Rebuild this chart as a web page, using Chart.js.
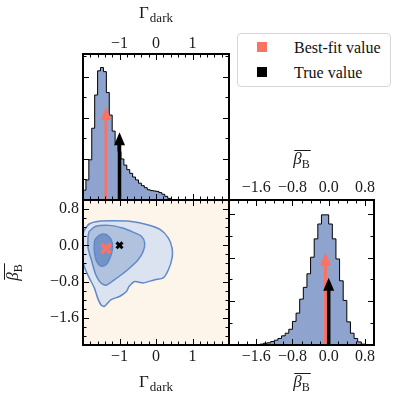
<!DOCTYPE html>
<html>
<head>
<meta charset="utf-8">
<script src="https://cdn.jsdelivr.net/npm/chart.js@4.4.0/dist/chart.umd.min.js"></script>
<style>
  html, body { margin: 0; padding: 0; background: #fff; }
  #wrap { position: relative; width: 397px; height: 399px; overflow: hidden; }
  #wrap canvas { position: absolute; left: 0; top: 0; }
  #legend { position: absolute; left: 237px; top: 33px; width: 154px; height: 54px; box-sizing: border-box;
            border: 1px solid #d6d6d6; border-radius: 4px; background: #fff;
            font-family: 'Liberation Serif', serif; font-size: 16px; color: #111; }
  #legend .sw { position: absolute; left: 19px; width: 10px; height: 10px; }
  #legend .lb { position: absolute; left: 56px; line-height: 16px; white-space: nowrap; }
</style>
</head>
<body>
<div id="wrap">
  <canvas id="cA" width="397" height="399"></canvas>
  <canvas id="cB" width="397" height="399"></canvas>
  <canvas id="cC" width="397" height="399"></canvas>
  <div id="legend">
    <div class="sw" style="top:8px;background:#fa7264"></div><div class="lb" style="top:6px">Best-fit value</div>
    <div class="sw" style="top:33px;background:#000"></div><div class="lb" style="top:31px">True value</div>
  </div>
</div>
<script>
// --- data ---
var gammaBinEdges = [-2.00, -1.92, -1.84, -1.76, -1.68, -1.60, -1.52, -1.44, -1.36, -1.28, -1.20, -1.12, -1.04, -0.96,
  -0.88, -0.80, -0.72, -0.64, -0.56, -0.48, -0.40, -0.32, -0.24, -0.16, -0.08, 0.00, 0.08, 0.16, 0.24, 0.32, 0.40, 0.48];
var gammaDensity = [0.24, 0.49, 0.98, 1.75, 2.56, 3.15, 3.23, 3.13, 2.62, 2.07, 1.68, 1.38, 1.18, 1.00, 0.85, 0.74,
  0.65, 0.56, 0.49, 0.41, 0.35, 0.30, 0.25, 0.23, 0.22, 0.21, 0.18, 0.14, 0.09, 0.04, 0.01];

var betaBinEdges = [-1.52, -1.44, -1.36, -1.28, -1.20, -1.12, -1.04, -0.96, -0.88, -0.80, -0.72, -0.64, -0.56, -0.48,
  -0.40, -0.32, -0.24, -0.16, -0.08, 0.00, 0.08, 0.16, 0.24, 0.32, 0.40, 0.48, 0.56, 0.64, 0.72, 0.80];
var betaDensity = [0.02, 0.04, 0.05, 0.08, 0.11, 0.15, 0.21, 0.27, 0.36, 0.54, 0.73, 1.05, 1.32, 1.63, 2.01, 2.43,
  2.77, 2.98, 2.98, 2.77, 2.43, 1.97, 1.47, 1.02, 0.53, 0.27, 0.15, 0.07, 0.02];

// 2D credible contours (gamma, beta)
var contourOuter = [[-1.97, 0.33], [-1.83, 0.47], [-1.56, 0.53], [-1.19, 0.54], [-0.72, 0.53], [-0.26, 0.46],
  [0.11, 0.35], [0.34, 0.16], [0.44, -0.06], [0.44, -0.28], [0.34, -0.54], [0.20, -0.72], [-0.03, -0.76],
  [-0.35, -0.83], [-0.58, -0.80], [-0.74, -0.91], [-0.81, -1.02], [-1.00, -1.13], [-1.23, -1.20], [-1.42, -1.35],
  [-1.51, -1.31], [-1.60, -1.16], [-1.69, -0.94], [-1.83, -0.72], [-1.95, -0.50], [-2.05, -0.21], [-2.06, 0.05],
  [-1.97, 0.33]];
var contourMiddle = [[-1.83, 0.31], [-1.65, 0.42], [-1.28, 0.44], [-0.91, 0.38], [-0.63, 0.29], [-0.40, 0.20],
  [-0.31, 0.05], [-0.35, -0.13], [-0.49, -0.32], [-0.72, -0.50], [-0.95, -0.65], [-1.19, -0.79], [-1.37, -0.88],
  [-1.51, -0.83], [-1.65, -0.65], [-1.76, -0.35], [-1.86, -0.06], [-1.86, 0.20], [-1.83, 0.31]];
var contourInner = [[-1.67, 0.13], [-1.56, 0.22], [-1.37, 0.24], [-1.23, 0.13], [-1.19, -0.06], [-1.26, -0.28],
  [-1.37, -0.43], [-1.51, -0.46], [-1.63, -0.35], [-1.69, -0.13], [-1.69, 0.05], [-1.67, 0.13]];

// [gamma, beta]
var bestFitValue = [-1.37, -0.07];
var trueValue = [-1.0, 0.0];
// arrow tip heights in each histogram (best-fit, true)
var gammaArrowTips = [2.27, 1.65];
var betaArrowTips = [2.12, 1.54];

var gammaMajor = [-1, 0, 1];
var gammaMinor = [-1.8, -1.6, -1.4, -1.2, -0.8, -0.6, -0.4, -0.2, 0.2, 0.4, 0.6, 0.8, 1.2, 1.4, 1.6, 1.8];
var betaMajor = [-1.6, -0.8, 0.0, 0.8];
var betaMinor = [-2.0, -1.8, -1.4, -1.2, -1.0, -0.6, -0.4, -0.2, 0.2, 0.4, 0.6];
var densMajor = [1, 2, 3];
var densMinor = [0.5, 1.5, 2.5, 3.5];

// --- styles ---
var ORANGE = '#fa7264';
var HIST_FILL = '#8ea3cd';
var SERIF = "'Liberation Serif', serif";
var TEXT = '#1a1a1a';

function histPoints(edges, vals) {
    var pts = [{ x: edges[0], y: 0 }];
    vals.forEach(function (v, i) { pts.push({ x: edges[i], y: v }); });
    pts.push({ x: edges[vals.length], y: 0 });
    return pts;
}

function pairs(list) {
    return list.map(function (p) { return { x: p[0], y: p[1] }; });
}

function fmtGamma(v) { return (v < 0 ? '\u2212' : '') + Math.abs(v); }
function fmtBeta(v) { return (v < 0 ? '\u2212' : '') + Math.abs(v).toFixed(1); }

function xScale(pos, min, max, major, fmt, size, pad) {
    return {
        type: 'linear', position: pos, min: min, max: max,
        afterBuildTicks: function (s) { s.ticks = major.map(function (v) { return { value: v }; }); },
        afterFit: function (s) { s.height = size; },
        ticks: { autoSkip: false, maxRotation: 0, padding: pad, color: TEXT, font: { family: SERIF, size: 16 }, callback: fmt },
        grid: { display: false, drawTicks: false },
        border: { display: false }
    };
}

// titles with subscripts
function drawGammaTitle(ctx, cx, base) {
    ctx.font = '17px ' + SERIF;
    var w1 = ctx.measureText('\u0393').width;
    ctx.font = '13px ' + SERIF;
    var w2 = ctx.measureText('dark').width;
    var x = cx - (w1 + w2 + 1) / 2;
    ctx.fillStyle = TEXT;
    ctx.textAlign = 'left';
    ctx.textBaseline = 'alphabetic';
    ctx.font = '17px ' + SERIF;
    ctx.fillText('\u0393', x, base);
    ctx.font = '13px ' + SERIF;
    ctx.fillText('dark', x + w1 + 1, base + 4);
}

function drawBetaTitle(ctx, cx, base) {
    ctx.font = 'italic 17px ' + SERIF;
    var w1 = ctx.measureText('\u03b2').width;
    ctx.font = '12px ' + SERIF;
    var w2 = ctx.measureText('B').width;
    var x = cx - (w1 + w2) / 2;
    ctx.fillStyle = TEXT;
    ctx.textAlign = 'left';
    ctx.textBaseline = 'alphabetic';
    ctx.font = 'italic 17px ' + SERIF;
    ctx.fillText('\u03b2', x, base);
    ctx.font = '12px ' + SERIF;
    ctx.fillText('B', x + w1, base + 4);
    ctx.fillRect(x + 1, base - 14, w1 + w2, 1);
}

function drawArrow(ctx, x, yBase, yTip, color, shaft) {
    var headW = 11, headL = 13;
    ctx.fillStyle = color;
    ctx.fillRect(x - shaft / 2, yTip + headL - 1, shaft, yBase - yTip - headL + 1);
    ctx.beginPath();
    ctx.moveTo(x, yTip);
    ctx.lineTo(x - headW / 2, yTip + headL);
    ctx.lineTo(x + headW / 2, yTip + headL);
    ctx.closePath();
    ctx.fill();
}

// background, inward ticks on all sides, arrows, frame, titles
var panelPlugin = {
    id: 'panel',
    beforeDatasetsDraw: function (chart, args, opts) {
        var a = chart.chartArea, ctx = chart.ctx;
        if (opts.background) {
            ctx.save();
            ctx.fillStyle = opts.background;
            ctx.fillRect(a.left, a.top, a.right - a.left, a.bottom - a.top);
            ctx.restore();
        }
    },
    afterDatasetsDraw: function (chart, args, opts) {
        var a = chart.chartArea, ctx = chart.ctx;
        var xs = chart.scales[opts.xId], ys = chart.scales[opts.yId];
        ctx.save();

        (opts.arrows || []).forEach(function (ar) {
            drawArrow(ctx, xs.getPixelForValue(ar.x), a.bottom, ys.getPixelForValue(ar.tip), ar.color, ar.shaft);
        });

        ctx.strokeStyle = '#000';
        ctx.lineWidth = 1;
        function seg(x1, y1, x2, y2) { ctx.beginPath(); ctx.moveTo(x1, y1); ctx.lineTo(x2, y2); ctx.stroke(); }
        [[opts.xMajor, 6], [opts.xMinor, 3.5]].forEach(function (t) {
            t[0].forEach(function (v) {
                var p = Math.round(xs.getPixelForValue(v)) + 0.5;
                seg(p, a.bottom, p, a.bottom - t[1]);
                seg(p, a.top, p, a.top + t[1]);
            });
        });
        [[opts.yMajor, 6], [opts.yMinor, 3.5]].forEach(function (t) {
            t[0].forEach(function (v) {
                if (v <= ys.min || v >= ys.max) return;
                var p = Math.round(ys.getPixelForValue(v)) + 0.5;
                seg(a.left, p, a.left + t[1], p);
                seg(a.right, p, a.right - t[1], p);
            });
        });

        ctx.lineWidth = 2;
        ctx.strokeRect(a.left, a.top, a.right - a.left, a.bottom - a.top);

        var cx = (a.left + a.right) / 2, cy = (a.top + a.bottom) / 2;
        (opts.titles || []).forEach(function (t) {
            if (t.kind === 'gamma') drawGammaTitle(ctx, cx, t.base);
            else if (t.rotate) {
                ctx.save();
                ctx.translate(t.base, cy);
                ctx.rotate(-Math.PI / 2);
                drawBetaTitle(ctx, 0, 0);
                ctx.restore();
            } else drawBetaTitle(ctx, cx, t.base);
        });
        ctx.restore();
    }
};

var common = {
    responsive: false,
    maintainAspectRatio: false,
    animation: false,
    devicePixelRatio: 1,
    events: []
};

function histDataset(edges, vals) {
    return {
        data: histPoints(edges, vals),
        stepped: 'before',
        fill: 'origin',
        backgroundColor: HIST_FILL,
        borderColor: '#000',
        borderWidth: 1,
        pointRadius: 0
    };
}

// top-left: gamma marginal
new Chart(document.getElementById('cA'), {
    type: 'line',
    data: { datasets: [histDataset(gammaBinEdges, gammaDensity)] },
    options: Object.assign({}, common, {
        layout: { padding: { left: 83, right: 168, top: 0, bottom: 199 } },
        scales: {
            x: xScale('top', -2, 2, gammaMajor, fmtGamma, 54, 1),
            y: { type: 'linear', display: false, min: 0, max: 3.56 }
        },
        plugins: {
            legend: { display: false }, tooltip: { enabled: false },
            panel: {
                xId: 'x', yId: 'y',
                xMajor: gammaMajor, xMinor: gammaMinor, yMajor: densMajor, yMinor: densMinor,
                arrows: [
                    { x: bestFitValue[0], tip: gammaArrowTips[0], color: ORANGE, shaft: 3 },
                    { x: trueValue[0], tip: gammaArrowTips[1], color: '#000', shaft: 3.5 }
                ],
                titles: [{ kind: 'gamma', base: 18 }]
            }
        }
    }),
    plugins: [panelPlugin]
});

// bottom-left: joint gamma-beta
function contourSet(list, fillColor, order) {
    return {
        data: pairs(list), fill: 'shape', tension: 0.25, order: order,
        backgroundColor: fillColor, borderColor: '#6089c8', borderWidth: 1.5, pointRadius: 0
    };
}

new Chart(document.getElementById('cB'), {
    type: 'line',
    data: {
        datasets: [
            {
                data: [{ x: bestFitValue[0], y: bestFitValue[1] }], showLine: false, order: 0,
                pointStyle: 'crossRot', pointRadius: 6.5, pointBorderWidth: 4, pointBorderColor: ORANGE, pointBackgroundColor: ORANGE
            },
            {
                data: [{ x: trueValue[0], y: trueValue[1] }], showLine: false, order: 0,
                pointStyle: 'crossRot', pointRadius: 4.2, pointBorderWidth: 3, pointBorderColor: '#000', pointBackgroundColor: '#000'
            },
            contourSet(contourInner, '#7494c8', 1),
            contourSet(contourMiddle, '#b1c2de', 2),
            contourSet(contourOuter, '#dbe3f0', 3)
        ]
    },
    options: Object.assign({}, common, {
        layout: { padding: { left: 0, right: 168, top: 200, bottom: 0 } },
        scales: {
            x: xScale('bottom', -2, 2, gammaMajor, fmtGamma, 54, 2),
            y: {
                type: 'linear', position: 'left', min: -2.2, max: 1.0,
                afterBuildTicks: function (s) { s.ticks = betaMajor.map(function (v) { return { value: v }; }); },
                afterFit: function (s) { s.width = 83; },
                ticks: { autoSkip: false, padding: 4, color: TEXT, font: { family: SERIF, size: 16 }, callback: fmtBeta },
                grid: { display: false, drawTicks: false },
                border: { display: false }
            }
        },
        plugins: {
            legend: { display: false }, tooltip: { enabled: false },
            panel: {
                xId: 'x', yId: 'y', background: '#fef5ea',
                xMajor: gammaMajor, xMinor: gammaMinor, yMajor: betaMajor, yMinor: betaMinor,
                titles: [{ kind: 'gamma', base: 387 }, { kind: 'beta', rotate: true, base: 18 }]
            }
        }
    }),
    plugins: [panelPlugin]
});

// bottom-right: beta marginal
new Chart(document.getElementById('cC'), {
    type: 'line',
    data: { datasets: [histDataset(betaBinEdges, betaDensity)] },
    options: Object.assign({}, common, {
        layout: { padding: { left: 229, right: 23, top: 0, bottom: 0 } },
        scales: {
            x: xScale('bottom', -2.2, 1.0, betaMajor, fmtBeta, 54, 2),
            x2: xScale('top', -2.2, 1.0, betaMajor, fmtBeta, 200, 3),
            y: { type: 'linear', display: false, min: 0, max: 3.32 }
        },
        plugins: {
            legend: { display: false }, tooltip: { enabled: false },
            panel: {
                xId: 'x', yId: 'y',
                xMajor: betaMajor, xMinor: betaMinor, yMajor: densMajor, yMinor: densMinor,
                arrows: [
                    { x: bestFitValue[1], tip: betaArrowTips[0], color: ORANGE, shaft: 3 },
                    { x: trueValue[1], tip: betaArrowTips[1], color: '#000', shaft: 3.5 }
                ],
                titles: [{ kind: 'beta', base: 164 }, { kind: 'beta', base: 387 }]
            }
        }
    }),
    plugins: [panelPlugin]
});
</script>
</body>
</html>
